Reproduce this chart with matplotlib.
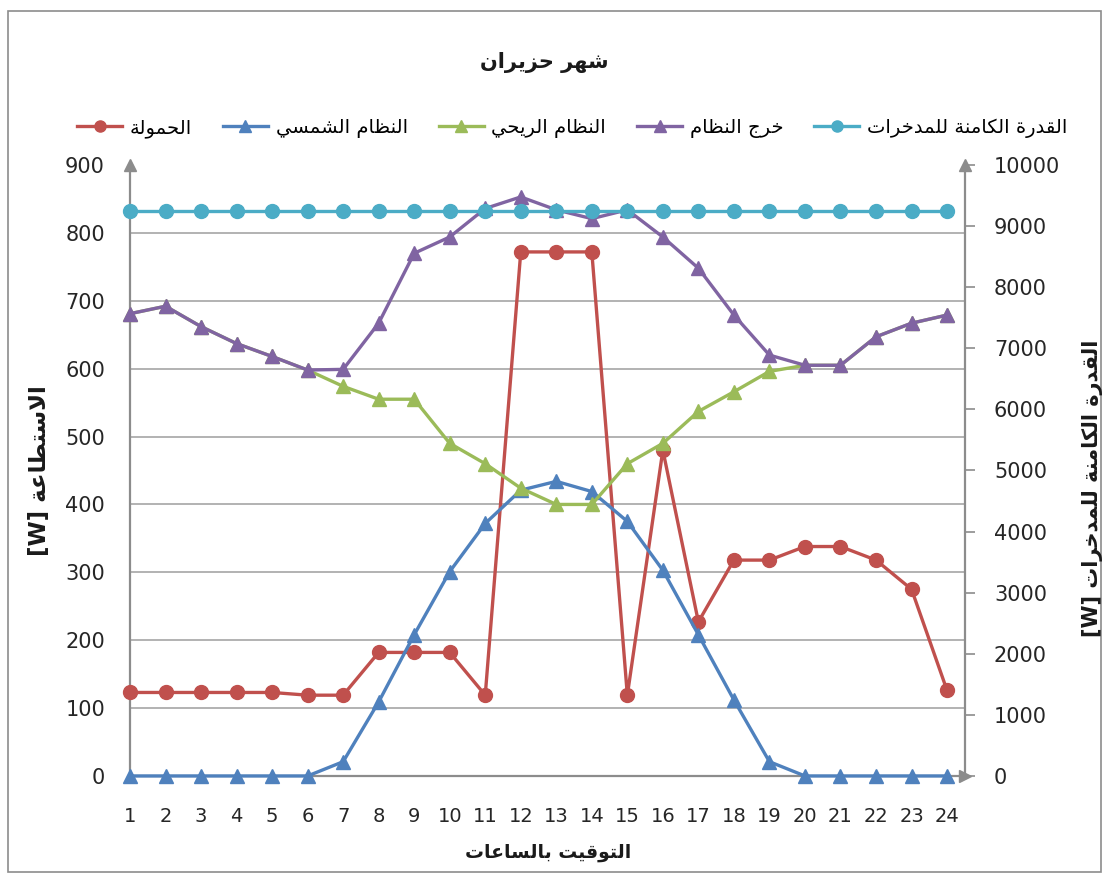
import matplotlib.pyplot as plt
from matplotlib.patches import Rectangle

plt.rcParams['font.family'] = ['DejaVu Sans']

hours = list(range(1, 25))
load = [123, 123, 123, 123, 123, 119, 119, 182, 182, 182, 119, 772,
        772, 772, 119, 480, 227, 318, 318, 338, 338, 318, 275, 126]
solar = [0, 0, 0, 0, 0, 0, 21, 109, 208, 301, 372, 421,
         434, 419, 375, 303, 208, 112, 21, 0, 0, 0, 0, 0]
wind = [681, 692, 662, 637, 618, 598, 574, 555, 555, 490, 460, 424,
        400, 400, 460, 490, 537, 566, 596, 605, 605, 647, 667, 679]
output = [681, 692, 662, 637, 618, 598, 599, 667, 770, 794, 836, 853,
          834, 821, 834, 794, 748, 679, 620, 605, 605, 647, 667, 679]
storage = [9250, 9250, 9250, 9250, 9250, 9250, 9250, 9250, 9250, 9250, 9250, 9250,
           9250, 9250, 9250, 9250, 9250, 9250, 9250, 9250, 9250, 9250, 9250, 9250]

left_ticks = [0, 100, 200, 300, 400, 500, 600, 700, 800, 900]
right_ticks = [0, 1000, 2000, 3000, 4000, 5000, 6000, 7000, 8000, 9000, 10000]

# isolated, final, initial, medial (two entries = joins to the right only)
FORMS = {
    0x0627: (0xFE8D, 0xFE8E), 0x0623: (0xFE83, 0xFE84), 0x0625: (0xFE87, 0xFE88),
    0x0628: (0xFE8F, 0xFE90, 0xFE91, 0xFE92), 0x0629: (0xFE93, 0xFE94),
    0x062A: (0xFE95, 0xFE96, 0xFE97, 0xFE98), 0x062B: (0xFE99, 0xFE9A, 0xFE9B, 0xFE9C),
    0x062C: (0xFE9D, 0xFE9E, 0xFE9F, 0xFEA0), 0x062D: (0xFEA1, 0xFEA2, 0xFEA3, 0xFEA4),
    0x062E: (0xFEA5, 0xFEA6, 0xFEA7, 0xFEA8), 0x062F: (0xFEA9, 0xFEAA),
    0x0630: (0xFEAB, 0xFEAC), 0x0631: (0xFEAD, 0xFEAE), 0x0632: (0xFEAF, 0xFEB0),
    0x0633: (0xFEB1, 0xFEB2, 0xFEB3, 0xFEB4), 0x0634: (0xFEB5, 0xFEB6, 0xFEB7, 0xFEB8),
    0x0635: (0xFEB9, 0xFEBA, 0xFEBB, 0xFEBC), 0x0636: (0xFEBD, 0xFEBE, 0xFEBF, 0xFEC0),
    0x0637: (0xFEC1, 0xFEC2, 0xFEC3, 0xFEC4), 0x0638: (0xFEC5, 0xFEC6, 0xFEC7, 0xFEC8),
    0x0639: (0xFEC9, 0xFECA, 0xFECB, 0xFECC), 0x063A: (0xFECD, 0xFECE, 0xFECF, 0xFED0),
    0x0641: (0xFED1, 0xFED2, 0xFED3, 0xFED4), 0x0642: (0xFED5, 0xFED6, 0xFED7, 0xFED8),
    0x0643: (0xFED9, 0xFEDA, 0xFEDB, 0xFEDC), 0x0644: (0xFEDD, 0xFEDE, 0xFEDF, 0xFEE0),
    0x0645: (0xFEE1, 0xFEE2, 0xFEE3, 0xFEE4), 0x0646: (0xFEE5, 0xFEE6, 0xFEE7, 0xFEE8),
    0x0647: (0xFEE9, 0xFEEA, 0xFEEB, 0xFEEC), 0x0648: (0xFEED, 0xFEEE),
    0x0649: (0xFEEF, 0xFEF0), 0x064A: (0xFEF1, 0xFEF2, 0xFEF3, 0xFEF4),
}


def ar(text):
    # join arabic letters into their contextual forms, then lay out right to left
    out = []
    i = 0
    while i < len(text):
        code = ord(text[i])
        if code not in FORMS:
            out.append(text[i])
            i += 1
            continue
        prev = ord(text[i - 1]) if i > 0 else None
        joins_prev = prev in FORMS and len(FORMS[prev]) == 4
        if code == 0x0644 and i + 1 < len(text) and text[i + 1] == '\u0627':
            out.append(chr(0xFEFC if joins_prev else 0xFEFB))
            i += 2
            continue
        nxt = ord(text[i + 1]) if i + 1 < len(text) else None
        f = FORMS[code]
        joins_next = len(f) == 4 and nxt in FORMS
        if joins_prev and joins_next:
            g = f[3]
        elif joins_prev:
            g = f[1]
        elif joins_next:
            g = f[2]
        else:
            g = f[0]
        out.append(chr(g))
        i += 1
    return ''.join(reversed(out))


fig = plt.figure(figsize=(11.09, 8.76), dpi=100)
fig.patches.append(Rectangle((0.007, 0.004), 0.986, 0.984, transform=fig.transFigure,
                             fill=False, edgecolor='#8c8c8c', linewidth=1.2))

ax = fig.add_axes([0.1172, 0.1142, 0.7528, 0.6974])
ax2 = ax.twinx()

axis_col = '#8c8c8c'
ax.set_xlim(1, 24.5)
ax.set_ylim(0, 900)
ax2.set_ylim(0, 10000)

for y in left_ticks[1:-1]:
    ax.axhline(y, color='#a6a6a6', linewidth=1.2, zorder=0)

style = dict(linewidth=2.4, markersize=10, clip_on=False, zorder=3)
ax.plot(hours, load, '-o', color='#C0504D', label=ar('الحمولة'), **style)
ax.plot(hours, solar, '-^', color='#4F81BD', label=ar('النظام الشمسي'), **style)
ax.plot(hours, wind, '-^', color='#9BBB59', label=ar('النظام الريحي'), **style)
ax.plot(hours, output, '-^', color='#8064A2', label=ar('خرج النظام'), **style)
ax2.plot(hours, storage, '-o', color='#4BACC6', label=ar('القدرة الكامنة للمدخرات'), **style)

for a in (ax, ax2):
    for s in a.spines.values():
        s.set_visible(False)
    for sp in ('left', 'right', 'bottom'):
        a.spines[sp].set_color(axis_col)
        a.spines[sp].set_linewidth(1.6)
ax.spines['left'].set_visible(True)
ax.spines['bottom'].set_visible(True)
ax2.spines['right'].set_visible(True)

ax.set_xticks(hours)
ax.set_yticks(left_ticks)
ax2.set_yticks(right_ticks)
ax.tick_params(axis='x', length=0, pad=22, labelsize=14, labelcolor='#262626')
ax.tick_params(axis='y', length=0, pad=18, labelsize=15, labelcolor='#262626')
ax2.tick_params(axis='y', length=7, width=1.2, color=axis_col, pad=14, labelsize=15,
                labelcolor='#262626')

# arrow heads at the ends of the axes
ax.plot([0], [1], marker='^', markersize=9, color=axis_col, transform=ax.transAxes, clip_on=False)
ax.plot([1], [1], marker='^', markersize=9, color=axis_col, transform=ax.transAxes, clip_on=False)
ax.plot([1], [0], marker='>', markersize=9, color=axis_col, transform=ax.transAxes,
        clip_on=False, zorder=2)

fig.text(0.491, 0.929, ar('شهر حزيران'), ha='center', va='center', fontsize=15,
         fontweight='bold', color='#1a1a1a')
fig.text(0.494, 0.027, ar('التوقيت بالساعات'), ha='center', va='center', fontsize=13.5,
         fontweight='bold', color='#1a1a1a')
fig.text(0.036, 0.463, '[W] ' + ar('الاستطاعة'), ha='center', va='center', rotation=90,
         fontsize=16.5, fontweight='bold', color='#1a1a1a')
fig.text(0.985, 0.443, '[W] ' + ar('القدرة الكامنة للمدخرات'), ha='center', va='center',
         rotation=90, fontsize=15, fontweight='bold', color='#1a1a1a')

h1, l1 = ax.get_legend_handles_labels()
h2, l2 = ax2.get_legend_handles_labels()
fig.legend(h1 + h2, l1 + l2, loc='center', bbox_to_anchor=(0.516, 0.854), ncol=5,
           frameon=False, fontsize=14, handlelength=2.3, columnspacing=1.6,
           handletextpad=0.4, markerscale=0.8)

fig.savefig('out.png', dpi=100)
